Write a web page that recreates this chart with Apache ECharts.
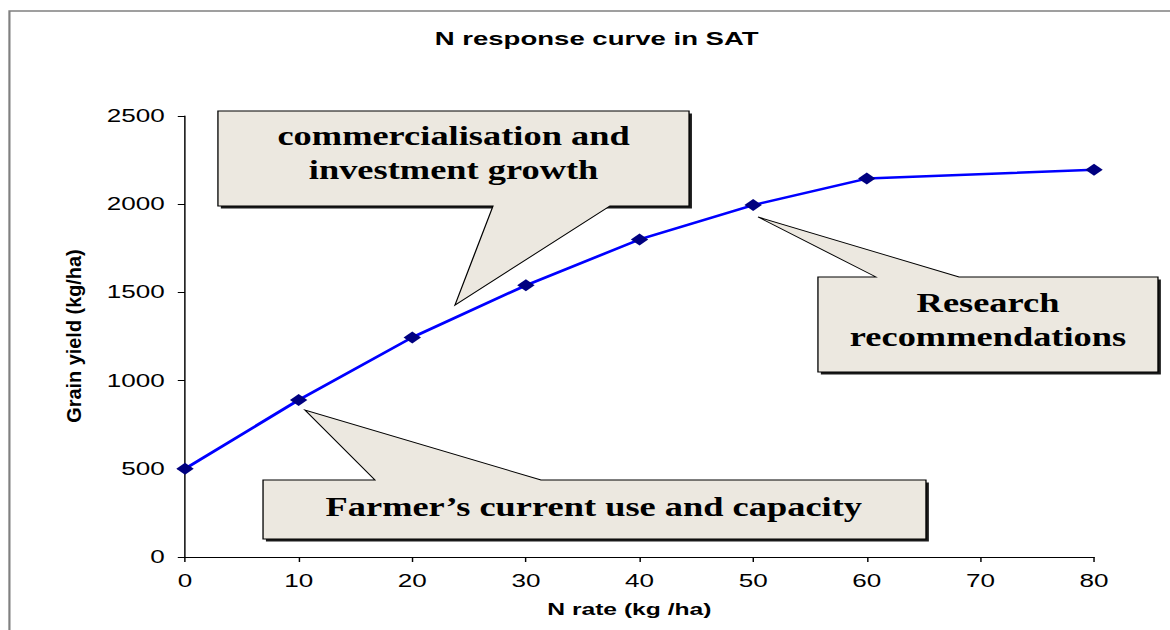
<!DOCTYPE html>
<html>
<head>
<meta charset="utf-8">
<script src="https://cdn.jsdelivr.net/npm/echarts@6/dist/echarts.min.js"></script>
<style>
html,body{margin:0;padding:0;background:#fff;overflow:hidden;}
#chart{width:807px;height:630px;transform:scaleX(1.45);transform-origin:0 0;}
</style>
</head>
<body>
<div id="chart"></div>
<script>
// Data
const nRates = [0, 10, 20, 30, 40, 50, 60, 80];
const grainYield = [500, 890, 1245, 1540, 1800, 1995, 2145, 2195];
const titleText = 'N response curve in SAT';
const xAxisName = 'N rate (kg /ha)';
const yAxisName = 'Grain yield (kg/ha)';
const calloutTexts = ['commercialisation and\ninvestment growth', 'Research\nrecommendations', 'Farmer\u2019s current use and capacity'];

const chart = echarts.init(document.getElementById('chart'), null, {renderer: 'svg'});

const boxFill = '#ece8e0';
function callout(boxRect, polyPoints, text, cx, cy) {
  return [
    {type: 'rect', z: 20, shape: {x: boxRect[0] + 2, y: boxRect[1] + 2.5, width: boxRect[2] - boxRect[0], height: boxRect[3] - boxRect[1]}, style: {fill: '#1a1a1a'}},
    {type: 'polygon', z: 21, shape: {points: polyPoints}, style: {fill: boxFill, stroke: '#000', lineWidth: 0.9}},
    {type: 'text', z: 22, x: cx, y: cy, scaleX: 0.93,
     style: {text: text, x: 0, y: 0, font: 'bold 27px "Liberation Serif"', fill: '#000',
             textAlign: 'center', textVerticalAlign: 'middle', align: 'center', verticalAlign: 'middle', lineHeight: 34}}
  ];
}

const graphics = [].concat(
  [{type: 'polyline', z: 1, shape: {points: [[6.5, 640], [6.5, 11], [830, 11]]}, style: {stroke: '#808080', lineWidth: 1.5, fill: null}}],
  [{type: 'text', z: 5, x: 51, y: 336, rotation: Math.PI / 2, scaleX: 1.42,
    style: {text: yAxisName, x: 0, y: 0, font: 'bold 14px "Liberation Sans"', fill: '#000',
            textAlign: 'center', textVerticalAlign: 'middle', align: 'center', verticalAlign: 'middle'}}],
  callout([150.3, 111, 475.2, 206],
    [[150.3, 111], [475.2, 111], [475.2, 206], [420.7, 206], [313.8, 305], [340, 206], [150.3, 206]],
    calloutTexts[0], 312.8, 153),
  callout([564.1, 277, 798.6, 372],
    [[564.1, 277], [604.1, 277], [522.8, 217], [661.4, 277], [798.6, 277], [798.6, 372], [564.1, 372]],
    calloutTexts[1], 681.4, 320),
  callout([181.4, 480, 638.6, 539],
    [[181.4, 480], [258.6, 480], [210.3, 410], [373.1, 480], [638.6, 480], [638.6, 539], [181.4, 539]],
    calloutTexts[2], 409.5, 507)
);

const option = {
  animation: false,
  backgroundColor: '#fff',
  title: {
    text: titleText,
    left: 411.5,
    top: 29,
    textAlign: 'center',
    padding: 0,
    textStyle: {fontFamily: 'Liberation Sans', fontWeight: 'bold', fontSize: 19, color: '#000'}
  },
  grid: {left: 127.6, right: 52.5, top: 116, bottom: 73, containLabel: false, outerBoundsMode: 'none'},
  xAxis: {
    type: 'value', min: 0, max: 80, interval: 10,
    name: xAxisName, nameLocation: 'middle', nameGap: 43,
    nameTextStyle: {fontFamily: 'Liberation Sans', fontWeight: 'bold', fontSize: 17, color: '#000', padding: [0, 14, 0, 0]},
    axisLine: {show: true, lineStyle: {color: '#000', width: 1}},
    axisTick: {show: true, inside: false, length: 5, lineStyle: {color: '#000'}},
    axisLabel: {fontFamily: 'Liberation Sans', fontSize: 18, color: '#000', margin: 15, formatter: v => String(v)},
    splitLine: {show: false}
  },
  yAxis: {
    type: 'value', min: 0, max: 2500, interval: 500,
    axisLine: {show: true, lineStyle: {color: '#000', width: 1}},
    axisTick: {show: true, inside: false, length: 5, lineStyle: {color: '#000'}},
    axisLabel: {fontFamily: 'Liberation Sans', fontSize: 18, color: '#000', margin: 14, formatter: v => String(v)},
    splitLine: {show: false}
  },
  series: [{
    type: 'line',
    data: nRates.map((x, i) => [x, grainYield[i]]),
    smooth: false,
    symbol: 'diamond',
    symbolSize: 12,
    showSymbol: true,
    lineStyle: {color: '#0000ff', width: 2.5},
    itemStyle: {color: '#000080'},
    z: 5
  }],
  graphic: {elements: graphics}
};
chart.setOption(option);
</script>
</body>
</html>
